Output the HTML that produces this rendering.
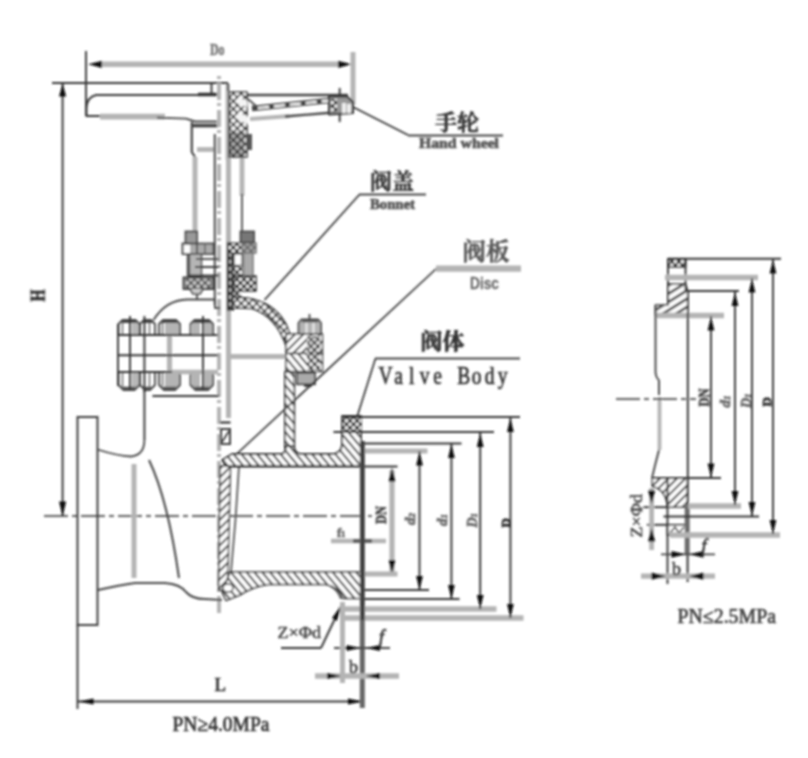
<!DOCTYPE html>
<html lang="zh">
<head>
<meta charset="utf-8">
<title>闸阀 Gate Valve</title>
<style>
html,body{margin:0;padding:0;background:#fff;}
body{width:808px;height:758px;overflow:hidden;}
svg{display:block;}
</style>
</head>
<body>
<svg width="808" height="758" viewBox="0 0 808 758">
<defs>
<filter id="bl" x="-5%" y="-5%" width="110%" height="110%"><feGaussianBlur stdDeviation="1.1"/></filter>
<pattern id="h1" width="6" height="6" patternUnits="userSpaceOnUse" patternTransform="rotate(45)"><rect width="6" height="6" fill="#fff"/><rect width="2" height="6" fill="#444"/></pattern>
<pattern id="h2" width="6" height="6" patternUnits="userSpaceOnUse" patternTransform="rotate(-40)"><rect width="6" height="6" fill="#fff"/><rect width="2" height="6" fill="#444"/></pattern>
<pattern id="h3" width="7" height="7" patternUnits="userSpaceOnUse" patternTransform="rotate(58)"><rect width="7" height="7" fill="#fff"/><rect width="2.6" height="7" fill="#444"/></pattern>
<pattern id="x2" width="5.5" height="5.5" patternUnits="userSpaceOnUse" patternTransform="rotate(45)"><rect width="5.5" height="5.5" fill="#333"/><rect x="0.9" y="0.9" width="3.9" height="3.9" fill="#fff"/></pattern>
<pattern id="x1" width="5" height="5" patternUnits="userSpaceOnUse" patternTransform="rotate(45)"><rect width="5" height="5" fill="#222"/><rect x="1" y="1" width="3.2" height="3.2" fill="#fff"/></pattern>
</defs>
<rect width="808" height="758" fill="#fff"/>
<g filter="url(#bl)" stroke-linecap="butt">
<line x1="86" y1="51" x2="86" y2="116" stroke="#333" stroke-width="1.9" />
<line x1="98" y1="64.3" x2="342" y2="64.3" stroke="#b4b4b4" stroke-width="5.6" />
<polygon points="88,64.3 102,60.699999999999996 102,67.89999999999999" fill="#111"/>
<polygon points="352,64.3 338,60.699999999999996 338,67.89999999999999" fill="#111"/>
<line x1="353" y1="52" x2="353" y2="105" stroke="#b4b4b4" stroke-width="5.0" />
<text x="210" y="54.8" font-family="'Liberation Serif', 'Noto Serif CJK SC', serif" font-size="16" fill="#777" text-anchor="start" font-weight="bold" textLength="14.5" lengthAdjust="spacingAndGlyphs"  stroke="#777" stroke-width="0.7" stroke-linejoin="round">Do</text>
<line x1="52" y1="83" x2="228" y2="83" stroke="#333" stroke-width="1.9" />
<line x1="62.6" y1="83" x2="62.6" y2="516" stroke="#333" stroke-width="1.9" />
<polygon points="62.6,83.5 59.0,96.5 66.2,96.5" fill="#111"/>
<polygon points="62.6,516.5 59.0,501.5 66.2,501.5" fill="#111"/>
<text x="44.2" y="301.5" font-family="'Liberation Serif', 'Noto Serif CJK SC', serif" font-size="22" fill="#222" text-anchor="start" font-weight="bold" transform="rotate(-90 44.2 301.5)" textLength="12" lengthAdjust="spacingAndGlyphs"  stroke="#222" stroke-width="0.7" stroke-linejoin="round">H</text>
<path d="M215,95 L96,95 Q87,97 86.5,108 L86.5,116 L100,116" stroke="#333" stroke-width="1.9" fill="none" stroke-linejoin="round" />
<line x1="100" y1="116.6" x2="165" y2="116.6" stroke="#b4b4b4" stroke-width="5.6" />
<path d="M157,117.6 L186,118.6 L195,121.5 L218,121.5" stroke="#444" stroke-width="1.9" fill="none" stroke-linejoin="round" />
<line x1="192" y1="125.6" x2="218.5" y2="125.6" stroke="#444" stroke-width="3.6" />
<line x1="198" y1="94.5" x2="218" y2="94.5" stroke="#333" stroke-width="3.5" />
<line x1="211.5" y1="84" x2="211.5" y2="95" stroke="#333" stroke-width="1.9" />
<path d="M191.8,122 L191.8,152 L195,157" stroke="#444" stroke-width="2.2" fill="none" stroke-linejoin="round" />
<line x1="197" y1="149.5" x2="215" y2="149.5" stroke="#b4b4b4" stroke-width="4.8" />
<line x1="219" y1="76" x2="219" y2="614" stroke="#b4b4b4" stroke-width="4" stroke-dasharray="3 4 17 3"/>
<line x1="227.8" y1="84" x2="227.8" y2="160" stroke="#b4b4b4" stroke-width="4.4" />
<line x1="228" y1="83" x2="228" y2="91" stroke="#555" stroke-width="2" />
<line x1="228.5" y1="158" x2="228.5" y2="418" stroke="#b4b4b4" stroke-width="5.0" />
<line x1="214.8" y1="134" x2="214.8" y2="305" stroke="#555" stroke-width="2.2" />
<line x1="195" y1="157" x2="195" y2="232" stroke="#b4b4b4" stroke-width="5.0" />
<line x1="242" y1="157" x2="242" y2="196" stroke="#b4b4b4" stroke-width="4.8" />
<line x1="242" y1="194" x2="242" y2="232" stroke="#555" stroke-width="1.9" />
<line x1="243" y1="95" x2="348" y2="95" stroke="#444" stroke-width="2.4" />
<line x1="252" y1="108.5" x2="329" y2="100.5" stroke="#444" stroke-width="5.5" />
<line x1="258" y1="108" x2="329" y2="100.6" stroke="#fff" stroke-width="2.2" stroke-dasharray="11 5"/>
<path d="M248,99 L256,106" stroke="#555" stroke-width="2" fill="none" stroke-linejoin="round" />
<line x1="250" y1="119" x2="290" y2="116" stroke="#b4b4b4" stroke-width="3.8" />
<path d="M285,116.5 L333,112.5" stroke="#444" stroke-width="2.4" fill="none" stroke-linejoin="round" />
<line x1="339.7" y1="88" x2="339.7" y2="122" stroke="#333" stroke-width="1.9" />
<path d="M329,96.5 L347,96.5 L353,102 L353,113 L329,114.5 Z" stroke="#333" stroke-width="2" fill="#999" stroke-linejoin="round" />
<rect x="331" y="99" width="6" height="13" fill="url(#x1)"/>
<rect x="342" y="103" width="4" height="10" fill="#eee"/>
<rect x="347" y="104" width="4" height="9" fill="#eee"/>
<rect x="229" y="92" width="18" height="65" fill="url(#x2)" stroke="#333" stroke-width="1.5"/>
<rect x="229" y="132" width="16" height="24" fill="#333" opacity="0.4"/>
<path d="M238,97 L247,101 L247,107 L238,104 Z M238,112 L248,117 L248,124 L238,120 Z" fill="#f4f4f4"/>
<rect x="246" y="134" width="6" height="16" fill="#555"/>
<line x1="353" y1="107" x2="408" y2="135" stroke="#333" stroke-width="1.7" />
<line x1="408" y1="135.5" x2="503" y2="135.5" stroke="#444" stroke-width="2" />
<text x="435" y="129.5" font-family="'Liberation Serif', 'Noto Serif CJK SC', serif" font-size="22" fill="#333" text-anchor="start" font-weight="600"  stroke="#333" stroke-width="0.7" stroke-linejoin="round">手轮</text>
<text x="419" y="148" font-family="'Liberation Serif', 'Noto Serif CJK SC', serif" font-size="14" fill="#555" text-anchor="start" font-weight="bold" textLength="80" lengthAdjust="spacingAndGlyphs"  stroke="#555" stroke-width="0.7" stroke-linejoin="round">Hand wheel</text>
<rect x="185.5" y="231.5" width="11.5" height="13" fill="#999" stroke="#444" stroke-width="1.8"/>
<rect x="182.5" y="243.5" width="31" height="10.5" fill="#aaa" stroke="#444" stroke-width="1.8"/>
<rect x="184" y="245" width="6" height="8" fill="#fff"/>
<line x1="197" y1="243" x2="197" y2="254" stroke="#444" stroke-width="1.6" />
<line x1="205" y1="243" x2="205" y2="254" stroke="#666" stroke-width="1.6" />
<rect x="187.5" y="254" width="14" height="23" fill="#b5b5b5" stroke="#555" stroke-width="1.6"/>
<line x1="189" y1="254" x2="189" y2="277" stroke="#555" stroke-width="2.4" />
<line x1="196" y1="259" x2="219" y2="259" stroke="#444" stroke-width="1.8" />
<line x1="195" y1="267" x2="219" y2="267" stroke="#333" stroke-width="1.9" />
<line x1="189" y1="275.5" x2="219" y2="275.5" stroke="#333" stroke-width="1.9" />
<rect x="183.5" y="277.5" width="30" height="11.5" fill="#999" stroke="#333" stroke-width="1.8"/>
<rect x="186" y="279" width="25" height="9" fill="url(#x1)" opacity="0.6"/>
<path d="M190,289 L193,294 L200,294 L203,289" stroke="#444" stroke-width="1.6" fill="#ccc" stroke-linejoin="round" />
<line x1="197" y1="294" x2="197" y2="299" stroke="#444" stroke-width="1.8" />
<rect x="227.5" y="243" width="6" height="67" fill="#333" stroke="#222" stroke-width="1"/>
<rect x="229" y="246" width="3" height="62" fill="url(#x1)" opacity="0.7"/>
<rect x="240.5" y="231.5" width="13.5" height="11" fill="#777" stroke="#444" stroke-width="1.8"/>
<rect x="228" y="243" width="28" height="10" fill="url(#x1)" stroke="#444" stroke-width="1.2"/>
<rect x="241" y="243" width="15" height="10" fill="#888" opacity="0.7"/>
<rect x="234" y="254" width="8" height="11.5" fill="#fff" stroke="#444" stroke-width="1.4"/>
<rect x="243.5" y="253" width="9.5" height="23" fill="#aaa" stroke="#777" stroke-width="1.5"/>
<rect x="233.5" y="266" width="9" height="10" fill="url(#x1)"/>
<rect x="233.5" y="276" width="22.5" height="15" fill="url(#x1)" stroke="#333" stroke-width="1.5"/>
<rect x="233.5" y="291" width="8" height="8" fill="url(#x1)"/>
<path d="M153.5,320 Q166,300 187,299.5 L215,299.5 L215,308 L220,308" stroke="#444" stroke-width="1.8" fill="none" stroke-linejoin="round" />
<path d="M233,297 L247,298 Q274,302 286,324 L293,342 L286.5,347 Q276,316 252,308.5 L233,308 Z" stroke="#333" stroke-width="1.5" fill="url(#x2)" stroke-linejoin="round" />
<line x1="229" y1="356.5" x2="285" y2="356.5" stroke="#b4b4b4" stroke-width="4.8" />
<line x1="264.5" y1="300" x2="359.5" y2="194.5" stroke="#333" stroke-width="1.7" />
<line x1="359" y1="194.5" x2="426" y2="194.5" stroke="#444" stroke-width="2" />
<text x="370" y="189" font-family="'Liberation Serif', 'Noto Serif CJK SC', serif" font-size="22" fill="#333" text-anchor="start" font-weight="600"  stroke="#333" stroke-width="0.7" stroke-linejoin="round">阀盖</text>
<text x="370" y="209" font-family="'Liberation Serif', 'Noto Serif CJK SC', serif" font-size="14" fill="#555" text-anchor="start" font-weight="bold" textLength="45" lengthAdjust="spacingAndGlyphs"  stroke="#555" stroke-width="0.7" stroke-linejoin="round">Bonnet</text>
<rect x="131.5" y="322" width="7.0" height="13" fill="#b8b8b8"/>
<rect x="131.5" y="372" width="7.0" height="15" fill="#b8b8b8"/>
<path d="M118.5,335 L118.5,324 L122.5,320 L135.5,320 L139.5,324 L139.5,335" stroke="#444" stroke-width="1.8" fill="none" stroke-linejoin="round" />
<path d="M118.5,372 L118.5,385 L123.5,390 L134.5,390 L139.5,385 L139.5,372" stroke="#444" stroke-width="1.8" fill="none" stroke-linejoin="round" />
<line x1="121.5" y1="321.5" x2="136.5" y2="321.5" stroke="#444" stroke-width="3" />
<line x1="122.5" y1="388" x2="135.5" y2="388" stroke="#555" stroke-width="2.6" />
<path d="M140,335 L140,324 L144,320 L151,320 L155,324 L155,335" stroke="#444" stroke-width="1.8" fill="none" stroke-linejoin="round" />
<path d="M140,372 L140,385 L145,390 L150,390 L155,385 L155,372" stroke="#444" stroke-width="1.8" fill="none" stroke-linejoin="round" />
<line x1="143" y1="321.5" x2="152" y2="321.5" stroke="#444" stroke-width="3" />
<line x1="144" y1="388" x2="151" y2="388" stroke="#555" stroke-width="2.6" />
<rect x="165" y="322" width="14.5" height="13" fill="#b4b4b4"/>
<rect x="165" y="372" width="14.5" height="15" fill="#b4b4b4"/>
<path d="M159,335 L159,324 L163,320 L176,320 L180,324 L180,335" stroke="#444" stroke-width="1.8" fill="none" stroke-linejoin="round" />
<path d="M159,372 L159,385 L164,390 L175,390 L180,385 L180,372" stroke="#444" stroke-width="1.8" fill="none" stroke-linejoin="round" />
<line x1="162" y1="321.5" x2="177" y2="321.5" stroke="#444" stroke-width="3" />
<line x1="163" y1="388" x2="176" y2="388" stroke="#555" stroke-width="2.6" />
<rect x="192" y="322" width="8" height="13" fill="#b4b4b4"/>
<rect x="192" y="372" width="8" height="15" fill="#b4b4b4"/>
<rect x="204" y="322" width="8" height="13" fill="#b4b4b4"/>
<rect x="204" y="372" width="8" height="15" fill="#b4b4b4"/>
<path d="M190.5,335 L190.5,324 L194.5,320 L209,320 L213,324 L213,335" stroke="#444" stroke-width="1.8" fill="none" stroke-linejoin="round" />
<path d="M190.5,372 L190.5,385 L195.5,390 L208,390 L213,385 L213,372" stroke="#444" stroke-width="1.8" fill="none" stroke-linejoin="round" />
<line x1="193.5" y1="321.5" x2="210" y2="321.5" stroke="#444" stroke-width="3" />
<line x1="194.5" y1="388" x2="209" y2="388" stroke="#555" stroke-width="2.6" />
<line x1="122.5" y1="323" x2="122.5" y2="335" stroke="#666" stroke-width="1.4" />
<line x1="122.5" y1="372" x2="122.5" y2="387" stroke="#666" stroke-width="1.4" />
<line x1="149.5" y1="323" x2="149.5" y2="335" stroke="#666" stroke-width="1.4" />
<line x1="149.5" y1="372" x2="149.5" y2="387" stroke="#666" stroke-width="1.4" />
<line x1="162.5" y1="323" x2="162.5" y2="335" stroke="#666" stroke-width="1.5" />
<line x1="162.5" y1="372" x2="162.5" y2="386" stroke="#666" stroke-width="1.5" />
<line x1="169.5" y1="336" x2="169.5" y2="372" stroke="#b4b4b4" stroke-width="5.2" />
<line x1="118" y1="335" x2="218" y2="335" stroke="#333" stroke-width="1.9" />
<line x1="118" y1="355.2" x2="218" y2="355.2" stroke="#333" stroke-width="1.9" />
<line x1="118" y1="372" x2="175" y2="372" stroke="#333" stroke-width="1.9" />
<line x1="172" y1="372" x2="218" y2="372" stroke="#b4b4b4" stroke-width="4.3" />
<line x1="118" y1="324" x2="118" y2="386" stroke="#333" stroke-width="1.9" />
<line x1="130" y1="316" x2="130" y2="389" stroke="#333" stroke-width="1.9" />
<line x1="144.4" y1="316" x2="144.4" y2="392" stroke="#333" stroke-width="1.9" />
<line x1="203" y1="316" x2="203" y2="389" stroke="#333" stroke-width="1.9" />
<path d="M298.5,334 L298.5,323 L301.5,319.3 L318,319.3 L321,323 L321,334" stroke="#444" stroke-width="1.8" fill="#b4b4b4" stroke-linejoin="round" />
<line x1="302" y1="321" x2="318" y2="321" stroke="#555" stroke-width="2.6" />
<line x1="306.5" y1="323" x2="306.5" y2="334" stroke="#eee" stroke-width="2" />
<line x1="313.5" y1="323" x2="313.5" y2="334" stroke="#eee" stroke-width="2" />
<line x1="309.5" y1="314" x2="309.5" y2="320" stroke="#444" stroke-width="1.8" />
<rect x="286" y="334" width="36.5" height="19.5" fill="url(#h1)" stroke="#333" stroke-width="1.4"/>
<rect x="286" y="353.5" width="36.5" height="18" fill="url(#h2)" stroke="#333" stroke-width="1.4"/>
<rect x="307" y="336" width="13" height="34" fill="url(#x1)" opacity="0.75"/>
<rect x="297" y="372.8" width="18" height="11.5" fill="#aaa" stroke="#444" stroke-width="1.8"/>
<line x1="304" y1="385.5" x2="312" y2="385.5" stroke="#333" stroke-width="2.6" />
<rect x="284.8" y="372" width="9.6" height="76" fill="url(#h2)" stroke="#333" stroke-width="1.6"/>
<line x1="227" y1="463" x2="436.5" y2="268.5" stroke="#333" stroke-width="1.7" />
<line x1="436" y1="268.7" x2="521" y2="268.7" stroke="#b4b4b4" stroke-width="6.3" />
<text x="462.5" y="259.5" font-family="'Liberation Serif', 'Noto Serif CJK SC', serif" font-size="23.5" fill="#555" text-anchor="start" font-weight="600"  stroke="#555" stroke-width="0.7" stroke-linejoin="round">阀板</text>
<text x="470" y="289" font-family="'Liberation Sans', 'Noto Sans CJK SC', sans-serif" font-size="16" fill="#6a6a6a" text-anchor="start" font-weight="bold" textLength="29" lengthAdjust="spacingAndGlyphs"  stroke="#6a6a6a" stroke-width="0.3" stroke-linejoin="round">Disc</text>
<line x1="357" y1="417" x2="375.5" y2="358.5" stroke="#333" stroke-width="1.7" />
<line x1="375" y1="358.5" x2="520" y2="358.5" stroke="#444" stroke-width="2" />
<text x="420.5" y="349" font-family="'Liberation Serif', 'Noto Serif CJK SC', serif" font-size="22" fill="#333" text-anchor="start" font-weight="700"  stroke="#333" stroke-width="0.7" stroke-linejoin="round">阀体</text>
<text transform="translate(0,383.5) scale(0.78,1)" font-family="'Liberation Serif', serif" font-size="25" fill="#333" stroke="#333" stroke-width="0.7" text-anchor="middle" x="494.4 511.0 527.7 544.4 561.0 577.7 594.4 611.0 627.7 644.4" y="0">Valve Body</text>
<rect x="77.5" y="417" width="20" height="208" stroke="#333" stroke-width="1.9" fill="none" />
<line x1="77.5" y1="625" x2="77.5" y2="709" stroke="#333" stroke-width="1.9" />
<line x1="144.4" y1="390" x2="144.4" y2="440" stroke="#333" stroke-width="1.9" />
<path d="M97.5,449.5 Q118,456 131,456.5 Q144.4,455 144.4,440" stroke="#444" stroke-width="1.8" fill="none" stroke-linejoin="round" />
<line x1="152.5" y1="396" x2="219" y2="396" stroke="#333" stroke-width="1.9" />
<line x1="44" y1="516" x2="372" y2="516" stroke="#333" stroke-width="1.7" stroke-dasharray="24 4 5 4"/>
<line x1="134" y1="464" x2="134" y2="578" stroke="#b4b4b4" stroke-width="5.0" />
<path d="M149,460 Q168,500 179,578" stroke="#444" stroke-width="2" fill="none" stroke-linejoin="round" />
<path d="M98,590 Q120,585 135,583 L165,583 Q180,584 186,592 Q192,599 205,599 L222,600" stroke="#444" stroke-width="2" fill="none" stroke-linejoin="round" />
<line x1="78" y1="701.5" x2="363" y2="701.5" stroke="#333" stroke-width="1.9" />
<polygon points="78.5,701.5 93.5,698.5 93.5,704.5" fill="#111"/>
<polygon points="363,701.5 348,698.5 348,704.5" fill="#111"/>
<text x="214.5" y="691" font-family="'Liberation Serif', 'Noto Serif CJK SC', serif" font-size="19" fill="#333" text-anchor="start" font-weight="normal"  stroke="#333" stroke-width="0.7" stroke-linejoin="round">L</text>
<text x="172.5" y="730.5" font-family="'Liberation Serif', 'Noto Serif CJK SC', serif" font-size="21" fill="#333" text-anchor="start" font-weight="normal" textLength="97" lengthAdjust="spacingAndGlyphs"  stroke="#333" stroke-width="0.7" stroke-linejoin="round">PN≥4.0MPa</text>
<rect x="221" y="429" width="9" height="15" stroke="#333" stroke-width="1.9" fill="none" />
<line x1="222" y1="442" x2="229" y2="431" stroke="#333" stroke-width="1.6" />
<line x1="220" y1="422.5" x2="230.5" y2="422.5" stroke="#333" stroke-width="2.2" />
<path d="M220,466 L230.5,466 L227.5,590 L218.5,590 Z" stroke="#444" stroke-width="1.5" fill="url(#h1)" stroke-linejoin="round" />
<path d="M232,572 L250,572 L262,585 L246,592 Z" fill="#999"/>
<path d="M239,466 Q236,520 231,572" stroke="#555" stroke-width="1.8" fill="none" stroke-linejoin="round" />
<path d="M232,454 L282,454 Q286,452 286,446 L294,446 Q294,452 300,454 L334,454 Q342,452 342,444 L342,416 L361,416 L361,466 L236,466 L226,466 L222,460 Z" stroke="#333" stroke-width="1.8" fill="url(#h2)" stroke-linejoin="round" />
<rect x="343" y="417" width="18" height="15" fill="url(#x1)"/>
<line x1="232" y1="466.5" x2="397.5" y2="466.5" stroke="#333" stroke-width="1.9" />
<path d="M230,572 L362,572 L362,598.5 L343,598.5 Q339,587 326,584.5 L268,584.5 Q252,587 240,595 L226,600.5 L222,592 Z" stroke="#333" stroke-width="1.7" fill="url(#h2)" stroke-linejoin="round" />
<ellipse cx="228" cy="588" rx="5" ry="4" fill="#fff" stroke="#444" stroke-width="1.5"/>
<path d="M330,586 Q338,590 341,599" stroke="#555" stroke-width="1.8" fill="none" stroke-linejoin="round" />
<line x1="342" y1="417" x2="520" y2="417" stroke="#333" stroke-width="1.9" />
<line x1="333.5" y1="432" x2="494" y2="432" stroke="#333" stroke-width="1.9" />
<line x1="361" y1="443.5" x2="461.5" y2="443.5" stroke="#333" stroke-width="1.9" />
<line x1="364" y1="451" x2="427.5" y2="451" stroke="#b4b4b4" stroke-width="5.0" />
<line x1="364" y1="590" x2="429" y2="590" stroke="#333" stroke-width="1.9" />
<line x1="364" y1="599" x2="459.5" y2="599" stroke="#333" stroke-width="1.9" />
<line x1="342" y1="609" x2="496.5" y2="609" stroke="#b4b4b4" stroke-width="5.3" />
<line x1="342" y1="618" x2="523.5" y2="618" stroke="#b4b4b4" stroke-width="5.3" />
<line x1="392" y1="470" x2="392" y2="572" stroke="#b4b4b4" stroke-width="5.2" />
<polygon points="392,467.5 388.6,481.5 395.4,481.5" fill="#111"/>
<polygon points="392,574 388.6,560 395.4,560" fill="#111"/>
<line x1="364" y1="574" x2="397.5" y2="574" stroke="#b4b4b4" stroke-width="5.0" />
<line x1="419.5" y1="451.5" x2="419.5" y2="590" stroke="#333" stroke-width="1.9" />
<polygon points="419.5,451.5 416.1,465.5 422.9,465.5" fill="#111"/>
<polygon points="419.5,590 416.1,576 422.9,576" fill="#111"/>
<line x1="451.4" y1="444" x2="451.4" y2="599" stroke="#333" stroke-width="1.9" />
<polygon points="451.4,444 448.0,458 454.79999999999995,458" fill="#111"/>
<polygon points="451.4,599 448.0,585 454.79999999999995,585" fill="#111"/>
<line x1="480.2" y1="433" x2="480.2" y2="609" stroke="#333" stroke-width="1.9" />
<polygon points="480.2,433 476.8,447 483.59999999999997,447" fill="#111"/>
<polygon points="480.2,609 476.8,595 483.59999999999997,595" fill="#111"/>
<line x1="510.4" y1="418" x2="510.4" y2="618" stroke="#333" stroke-width="1.9" />
<polygon points="510.4,418 507.0,432 513.8,432" fill="#111"/>
<polygon points="510.4,618 507.0,604 513.8,604" fill="#111"/>
<text x="386" y="524" font-family="'Liberation Serif', 'Noto Serif CJK SC', serif" font-size="14" fill="#444" text-anchor="start" font-weight="bold" transform="rotate(-90 386 524)" textLength="18" lengthAdjust="spacingAndGlyphs"  stroke="#444" stroke-width="0.7" stroke-linejoin="round">DN</text>
<text x="415" y="525" font-family="'Liberation Serif', 'Noto Serif CJK SC', serif" font-size="15" fill="#666" text-anchor="start" font-weight="bold" transform="rotate(-90 415 525)" font-style="italic" stroke="#666" stroke-width="0.7" stroke-linejoin="round">d<tspan font-size="9">2</tspan></text>
<text x="447" y="526" font-family="'Liberation Serif', 'Noto Serif CJK SC', serif" font-size="15" fill="#666" text-anchor="start" font-weight="bold" transform="rotate(-90 447 526)" font-style="italic" stroke="#666" stroke-width="0.7" stroke-linejoin="round">d<tspan font-size="9">1</tspan></text>
<text x="476.5" y="527.5" font-family="'Liberation Serif', 'Noto Serif CJK SC', serif" font-size="14" fill="#666" text-anchor="start" font-weight="bold" transform="rotate(-90 476.5 527.5)" font-style="italic" stroke="#666" stroke-width="0.7" stroke-linejoin="round">D<tspan font-size="9">1</tspan></text>
<text x="510" y="527.5" font-family="'Liberation Serif', 'Noto Serif CJK SC', serif" font-size="13" fill="#222" text-anchor="start" font-weight="bold" transform="rotate(-90 510 527.5)"  stroke="#222" stroke-width="0.7" stroke-linejoin="round">D</text>
<text x="337" y="536.5" font-family="'Liberation Serif', 'Noto Serif CJK SC', serif" font-size="13" fill="#666" text-anchor="start" font-weight="bold"  stroke="#666" stroke-width="0.7" stroke-linejoin="round">f<tspan font-size="8">1</tspan></text>
<line x1="331" y1="541" x2="386" y2="541" stroke="#b4b4b4" stroke-width="4.4" />
<line x1="353" y1="541" x2="372" y2="541" stroke="#555" stroke-width="3.4" />
<line x1="362.3" y1="441" x2="362.3" y2="708" stroke="#666" stroke-width="5" />
<line x1="362.6" y1="441" x2="362.6" y2="620" stroke="#3a3a3a" stroke-width="3.4" />
<text x="277.5" y="638" font-family="'Liberation Serif', 'Noto Serif CJK SC', serif" font-size="16" fill="#444" text-anchor="start" font-weight="normal" textLength="43.5" lengthAdjust="spacingAndGlyphs"  stroke="#444" stroke-width="0.5" stroke-linejoin="round">Z×Φd</text>
<line x1="281" y1="648" x2="321" y2="648" stroke="#333" stroke-width="1.9" />
<line x1="321" y1="648" x2="341" y2="606" stroke="#333" stroke-width="1.9" />
<polygon points="341.5,605 337,621 332,618" fill="#111"/>
<line x1="334" y1="648" x2="390" y2="648" stroke="#444" stroke-width="2" />
<polygon points="360.5,648 346.5,645 346.5,651" fill="#111"/>
<polygon points="366,648 380,645 380,651" fill="#111"/>
<text x="379" y="642.5" font-family="'Liberation Serif', 'Noto Serif CJK SC', serif" font-size="18" fill="#333" text-anchor="start" font-weight="normal" font-style="italic" stroke="#333" stroke-width="0.7" stroke-linejoin="round">f</text>
<line x1="315" y1="676" x2="399" y2="676" stroke="#b4b4b4" stroke-width="5.3" />
<polygon points="341,676 327,673 327,679" fill="#111"/>
<polygon points="366,676 380,673 380,679" fill="#111"/>
<text x="349" y="672.5" font-family="'Liberation Serif', 'Noto Serif CJK SC', serif" font-size="18" fill="#444" text-anchor="start" font-weight="normal"  stroke="#444" stroke-width="0.7" stroke-linejoin="round">b</text>
<line x1="342.5" y1="602" x2="342.5" y2="683" stroke="#b4b4b4" stroke-width="5.0" />
<rect x="668" y="258.8" width="17.5" height="8" fill="url(#x1)" stroke="#333" stroke-width="1.7"/>
<path d="M668,284 L685.5,284 L687.8,291 L687.8,315 L655.5,315 L655.5,305 L668,305 Z" stroke="#333" stroke-width="1.6" fill="url(#h3)" stroke-linejoin="round" />
<line x1="668" y1="258.8" x2="668" y2="305" stroke="#333" stroke-width="1.9" />
<line x1="685.5" y1="258.8" x2="685.5" y2="291" stroke="#333" stroke-width="1.9" />
<line x1="668" y1="258.8" x2="781" y2="258.8" stroke="#333" stroke-width="1.9" />
<line x1="665" y1="277.5" x2="758" y2="277.5" stroke="#b4b4b4" stroke-width="5.3" />
<line x1="687.8" y1="291" x2="739" y2="291" stroke="#333" stroke-width="1.9" />
<line x1="655.5" y1="315.5" x2="724" y2="315.5" stroke="#b4b4b4" stroke-width="5.3" />
<line x1="687.8" y1="291" x2="687.8" y2="478" stroke="#333" stroke-width="1.9" />
<path d="M655.5,305 L655.5,372 Q656,378 659,380" stroke="#444" stroke-width="1.9" fill="none" stroke-linejoin="round" />
<path d="M659,380 L659,395" stroke="#444" stroke-width="1.9" fill="none" stroke-linejoin="round" />
<line x1="659.5" y1="397" x2="659.5" y2="450" stroke="#b4b4b4" stroke-width="3.8" />
<path d="M659,450 Q655,465 652,478" stroke="#444" stroke-width="1.9" fill="none" stroke-linejoin="round" />
<line x1="616" y1="399" x2="696" y2="399" stroke="#333" stroke-width="1.7" stroke-dasharray="24 4 5 4"/>
<path d="M652.3,478 L687.6,478 L687.6,507 L667.5,507 Q666,489 652.3,486.5 Z" stroke="#333" stroke-width="1.6" fill="url(#h1)" stroke-linejoin="round" />
<rect x="667.5" y="524.8" width="20" height="10" fill="#fff" stroke="#333" stroke-width="1.7"/>
<path d="M670,533 L675,527 L679,533 L684,527" stroke="#444" stroke-width="1.6" fill="none" stroke-linejoin="round" />
<line x1="667.5" y1="478" x2="667.5" y2="584" stroke="#333" stroke-width="1.9" />
<line x1="687.6" y1="478" x2="687.6" y2="582" stroke="#333" stroke-width="2" />
<line x1="687.2" y1="507" x2="687.2" y2="555" stroke="#6a6a6a" stroke-width="5" />
<line x1="652.3" y1="478" x2="721" y2="478" stroke="#333" stroke-width="1.9" />
<line x1="688" y1="506" x2="741" y2="506" stroke="#b4b4b4" stroke-width="5.3" />
<line x1="663.5" y1="516.5" x2="759" y2="516.5" stroke="#333" stroke-width="1.9" />
<line x1="670" y1="535" x2="780" y2="535" stroke="#b4b4b4" stroke-width="5.3" />
<line x1="643.5" y1="507.2" x2="667" y2="507.2" stroke="#333" stroke-width="1.9" />
<line x1="647" y1="524.8" x2="667" y2="524.8" stroke="#333" stroke-width="1.9" />
<line x1="711" y1="316.5" x2="711" y2="477.5" stroke="#333" stroke-width="1.9" />
<polygon points="711,316.5 707.6,330.5 714.4,330.5" fill="#111"/>
<polygon points="711,477.5 707.6,463.5 714.4,463.5" fill="#111"/>
<line x1="735" y1="292" x2="735" y2="505" stroke="#333" stroke-width="1.9" />
<polygon points="735,292 731.6,306 738.4,306" fill="#111"/>
<polygon points="735,505 731.6,491 738.4,491" fill="#111"/>
<line x1="752" y1="278.5" x2="752" y2="516" stroke="#333" stroke-width="1.9" />
<polygon points="752,278.5 748.6,292.5 755.4,292.5" fill="#111"/>
<polygon points="752,516 748.6,502 755.4,502" fill="#111"/>
<line x1="773" y1="259.5" x2="773" y2="534" stroke="#333" stroke-width="1.9" />
<polygon points="773,259.5 769.6,273.5 776.4,273.5" fill="#111"/>
<polygon points="773,534 769.6,520 776.4,520" fill="#111"/>
<text x="708.5" y="406.5" font-family="'Liberation Serif', 'Noto Serif CJK SC', serif" font-size="14" fill="#444" text-anchor="start" font-weight="bold" transform="rotate(-90 708.5 406.5)" textLength="18" lengthAdjust="spacingAndGlyphs"  stroke="#444" stroke-width="0.7" stroke-linejoin="round">DN</text>
<text x="730" y="407.5" font-family="'Liberation Serif', 'Noto Serif CJK SC', serif" font-size="15" fill="#666" text-anchor="start" font-weight="bold" transform="rotate(-90 730 407.5)" font-style="italic" stroke="#666" stroke-width="0.7" stroke-linejoin="round">d<tspan font-size="9">1</tspan></text>
<text x="751" y="408" font-family="'Liberation Serif', 'Noto Serif CJK SC', serif" font-size="14" fill="#666" text-anchor="start" font-weight="bold" transform="rotate(-90 751 408)" font-style="italic" stroke="#666" stroke-width="0.7" stroke-linejoin="round">D<tspan font-size="9">1</tspan></text>
<text x="771" y="406.5" font-family="'Liberation Serif', 'Noto Serif CJK SC', serif" font-size="13" fill="#222" text-anchor="start" font-weight="bold" transform="rotate(-90 771 406.5)"  stroke="#222" stroke-width="0.7" stroke-linejoin="round">D</text>
<text x="642.3" y="537.5" font-family="'Liberation Serif', 'Noto Serif CJK SC', serif" font-size="16" fill="#444" text-anchor="start" font-weight="normal" transform="rotate(-90 642.3 537.5)" textLength="43.5" lengthAdjust="spacingAndGlyphs"  stroke="#444" stroke-width="0.5" stroke-linejoin="round">Z×Φd</text>
<line x1="651.6" y1="488" x2="651.6" y2="550" stroke="#b4b4b4" stroke-width="4.8" />
<polygon points="651.6,503.5 648.0,490.5 655.2,490.5" fill="#111"/>
<polygon points="651.6,528.5 648.0,541.5 655.2,541.5" fill="#111"/>
<line x1="661" y1="554.3" x2="715" y2="554.3" stroke="#444" stroke-width="1.8" />
<polygon points="685.5,554.3 671.5,550.9 671.5,557.6999999999999" fill="#111"/>
<polygon points="689.5,554.3 703.5,550.9 703.5,557.6999999999999" fill="#111"/>
<text x="701.5" y="551.5" font-family="'Liberation Serif', 'Noto Serif CJK SC', serif" font-size="18" fill="#333" text-anchor="start" font-weight="normal" font-style="italic" stroke="#333" stroke-width="0.7" stroke-linejoin="round">f</text>
<line x1="641" y1="576.2" x2="715" y2="576.2" stroke="#b4b4b4" stroke-width="5.3" />
<polygon points="665.5,576.2 651.5,572.6 651.5,579.8000000000001" fill="#111"/>
<polygon points="689.5,576.2 703.5,572.6 703.5,579.8000000000001" fill="#111"/>
<text x="672" y="574.5" font-family="'Liberation Serif', 'Noto Serif CJK SC', serif" font-size="18" fill="#444" text-anchor="start" font-weight="normal"  stroke="#444" stroke-width="0.7" stroke-linejoin="round">b</text>
<text x="677.5" y="622.5" font-family="'Liberation Serif', 'Noto Serif CJK SC', serif" font-size="20" fill="#444" text-anchor="start" font-weight="normal" textLength="98.5" lengthAdjust="spacingAndGlyphs"  stroke="#444" stroke-width="0.7" stroke-linejoin="round">PN≤2.5MPa</text>
</g>
</svg>
</body>
</html>
